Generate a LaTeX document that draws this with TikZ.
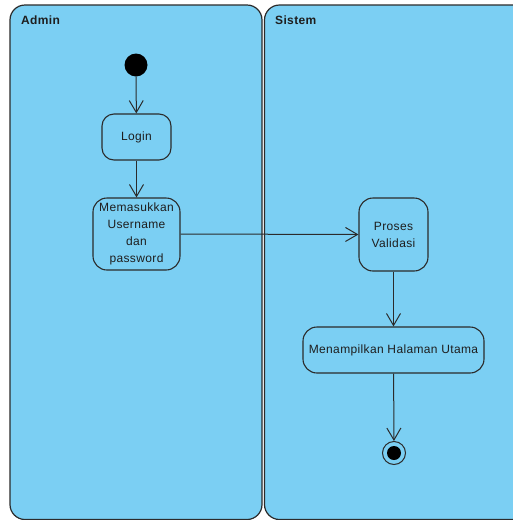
\documentclass[tikz,border=0pt]{standalone}
\usepackage{fontspec}
\setmainfont{Liberation Sans}[LetterSpace=3]
\usetikzlibrary{arrows.meta}
\definecolor{lanefill}{HTML}{7BCFF3}
\definecolor{edge}{HTML}{2B2B2B}
\definecolor{txt}{HTML}{1E1E1E}
\begin{document}
\begin{tikzpicture}[x=1pt,y=-1pt,
  lane/.style={draw=edge, fill=lanefill, line width=1.2pt, rounded corners=15pt},
  act/.style={draw=edge, line width=1.1pt, rectangle, inner sep=0pt, align=center,
    text=txt, font=\fontsize{12}{17}\selectfont},
  flow/.style={draw=edge, line width=1pt, -{Straight Barb[length=12pt,width=14pt,line width=1pt]}},
  lanetitle/.style={anchor=base west, inner sep=0pt, text=txt, font=\bfseries\fontsize{12}{14}\selectfont}
]
\useasboundingbox (0,0) rectangle (513,520);
\fill[white] (0,0) rectangle (513,520);
\begin{scope}
\clip (0,0) rectangle (513,520);
\draw[lane] (10,5) rectangle (262,519.5);
\draw[lane] (264.5,5) rectangle (540,519.5);
\end{scope}
\node[lanetitle] (tadmin) at (21,24) {Admin};
\node[lanetitle] (tsistem) at (275,24) {Sistem};

\node[circle, fill=black, inner sep=0pt, minimum size=23pt] (start) at (136,65) {};
\node[act, rounded corners=12pt, minimum width=69pt, minimum height=46pt] (login) at (136.5,137) {Login};
\node[act, rounded corners=14pt, minimum width=87pt, minimum height=72pt] (input) at (136.5,234) {Memasukkan\\Username\\dan\\password};
\node[act, rounded corners=14pt, minimum width=69pt, minimum height=73pt] (valid) at (393.5,234.5) {Proses\\Validasi};
\node[act, rounded corners=14pt, minimum width=181pt, minimum height=46pt] (home) at (393.5,350) {Menampilkan Halaman Utama};
\node[circle, draw=edge, line width=1pt, inner sep=0pt, minimum size=23pt] (final) at (394,453) {};
\fill[black] (final.center) circle (7pt);

\draw[flow] (start) -- (login);
\draw[flow] (login) -- (input);
\draw[flow] (input.east) -- (valid.west);
\draw[flow] (valid) -- (home);
\draw[flow] (home) -- (final);
\end{tikzpicture}
\end{document}
